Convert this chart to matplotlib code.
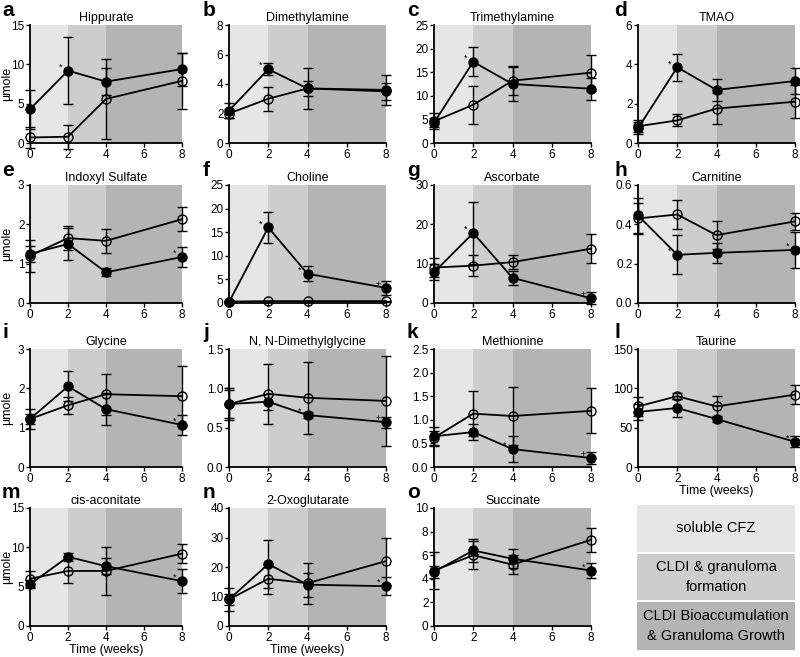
import matplotlib
matplotlib.use("Agg")
import matplotlib.pyplot as plt
from matplotlib.patches import Rectangle

plt.rcParams['font.family'] = ['Liberation Sans', 'DejaVu Sans']

weeks = [0, 2, 4, 8]

letters = list("abcdefghijklmno")
titles = ["Hippurate", "Dimethylamine", "Trimethylamine", "TMAO",
          "Indoxyl Sulfate", "Choline", "Ascorbate", "Carnitine",
          "Glycine", "N, N-Dimethylglycine", "Methionine", "Taurine",
          "cis-aconitate", "2-Oxoglutarate", "Succinate"]
ymax = [15, 8, 25, 6, 3, 25, 30, 0.6, 3, 1.5, 2.5, 150, 15, 40, 10]
ystep = [5, 2, 5, 2, 1, 5, 10, 0.2, 1, 0.5, 0.5, 50, 5, 10, 2]

# filled circles (CFZ) and open circles (control): mean and error
cfz = [[4.3, 9.2, 7.8, 9.4], [2.2, 5.0, 3.7, 3.6], [4.3, 17.2, 12.5, 11.5],
       [0.75, 3.85, 2.7, 3.15], [1.25, 1.5, 0.78, 1.17], [0.2, 16.0, 6.2, 3.2],
       [7.8, 17.8, 6.4, 1.2], [0.445, 0.245, 0.255, 0.27], [1.22, 2.05, 1.47, 1.07],
       [0.8, 0.83, 0.66, 0.57], [0.65, 0.74, 0.38, 0.19], [70, 75, 61, 32],
       [5.3, 8.8, 7.6, 5.7], [9, 21, 14, 13.5], [4.6, 6.4, 5.7, 4.7]]
cfz_err = [[2.5, 4.3, 1.7, 2.1], [0.5, 0.4, 0.5, 1.0], [1.0, 3.1, 3.5, 2.3],
           [0.3, 0.7, 0.55, 0.65], [0.2, 0.4, 0.1, 0.25], [0.2, 3.2, 1.6, 1.4],
           [2.0, 8.0, 1.7, 1.5], [0.09, 0.1, 0.05, 0.09], [0.25, 0.38, 0.4, 0.25],
           [0.18, 0.1, 0.04, 0.07], [0.2, 0.17, 0.27, 0.12], [10, 12, 4, 7],
           [0.5, 0.5, 1.0, 1.5], [2, 8, 4, 3], [0.5, 1.0, 0.8, 0.6]]
ctrl = [[0.7, 0.8, 5.6, 7.9], [2.0, 3.0, 3.7, 3.5], [4.6, 8.1, 13.2, 14.9],
        [0.85, 1.15, 1.75, 2.1], [1.2, 1.65, 1.58, 2.13], [0.3, 0.4, 0.4, 0.4],
        [9.0, 9.5, 10.4, 13.8], [0.43, 0.45, 0.345, 0.415], [1.22, 1.57, 1.85, 1.8],
        [0.8, 0.93, 0.88, 0.84], [0.62, 1.13, 1.08, 1.19], [77, 90, 77, 92],
        [6.0, 7.0, 7.0, 9.2], [9, 16, 14.5, 22], [4.7, 6.0, 5.2, 7.3]]
ctrl_err = [[1.3, 1.5, 5.1, 3.6], [0.3, 0.8, 1.4, 0.6], [1.7, 4.0, 3.1, 3.8],
            [0.3, 0.3, 0.8, 0.85], [0.4, 0.3, 0.3, 0.3], [0.1, 0.1, 0.1, 0.1],
            [2.4, 2.6, 1.8, 3.7], [0.08, 0.075, 0.07, 0.045], [0.12, 0.22, 0.52, 0.77],
            [0.2, 0.38, 0.46, 0.57], [0.15, 0.48, 0.62, 0.48], [12, 4, 13, 12],
            [1.0, 1.5, 3.0, 1.2], [4, 5, 7, 8], [1.6, 1.2, 0.8, 1.0]]

# significance marks next to filled points: (week, symbol)
marks = [[(2, "*")], [(2, "*")], [(2, "*")], [(2, "*")], [(8, "*")],
         [(2, "*"), (4, "*"), (8, "+")], [(2, "*"), (8, "+")], [(2, "*"), (8, "*")],
         [(8, "*")], [(4, "*"), (8, "+")], [(4, "*"), (8, "+")], [(8, "*")],
         [(8, "*")], [(8, "*")], [(8, "*")]]

phases = ["soluble CFZ", "CLDI & granuloma\nformation",
          "CLDI Bioaccumulation\n& Granuloma Growth"]
phase_bounds = [(0, 2), (2, 4), (4, 8)]
phase_colors = ["#e6e6e6", "#cdcdcd", "#b4b4b4"]

W, H = 800, 657
fig = plt.figure(figsize=(8, 6.57), dpi=100)

col_left = [30, 229, 434, 638]
col_w = [152, 157, 157, 157]
row_top = [25, 185, 349, 508]
ah = 118
letter_x = [2, 203, 407, 614]
letter_y = [10, 170, 332, 492]

for i in range(15):
    r, c = divmod(i, 4)
    ax = fig.add_axes([col_left[c] / W, 1 - (row_top[r] + ah) / H, col_w[c] / W, ah / H])
    for (x0, x1), col in zip(phase_bounds, phase_colors):
        ax.axvspan(x0, x1, color=col, lw=0, zorder=0)
    ax.errorbar(weeks, ctrl[i], yerr=ctrl_err[i], color="black", lw=1.3,
                marker="o", ms=6.5, mfc="none", mec="black", mew=1.0,
                capsize=3.5, elinewidth=1.0, capthick=1.0, clip_on=False, zorder=3)
    ax.errorbar(weeks, cfz[i], yerr=cfz_err[i], color="black", lw=1.3,
                marker="o", ms=6.5, mfc="black", mec="black",
                capsize=3.5, elinewidth=1.0, capthick=1.0, clip_on=False, zorder=4)
    for wk, sym in marks[i]:
        k = weeks.index(wk)
        ax.text(wk - 0.4, cfz[i][k] + 0.03 * ymax[i], sym, fontsize=6.5,
                ha="center", va="center", zorder=5)
    ax.set_xlim(0, 8)
    ax.set_ylim(0, ymax[i])
    ax.set_xticks([0, 2, 4, 6, 8])
    n = int(round(ymax[i] / ystep[i]))
    yt = [ystep[i] * k for k in range(n + 1)]
    ax.set_yticks(yt)
    if ystep[i] < 1:
        ax.set_yticklabels([f"{v:.1f}" for v in yt])
    for s in ["top", "right"]:
        ax.spines[s].set_visible(False)
    for s in ["left", "bottom"]:
        ax.spines[s].set_linewidth(1.3)
    ax.tick_params(labelsize=8.5, length=3, width=1.0, pad=1)
    ax.set_title(titles[i], fontsize=9, pad=3)
    if c == 0:
        ax.set_ylabel("µmole", fontsize=9)
        ax.yaxis.set_label_coords(-0.11, 0.5)
    if i in (11, 12, 13):
        ax.set_xlabel("Time (weeks)", fontsize=9, labelpad=0)
    fig.text(letter_x[c] / W, 1 - letter_y[r] / H, letters[i], fontsize=15,
             fontweight="bold", ha="left", va="center")

# legend boxes for the three phases
box_tops = [505, 554, 602]
box_h = [47, 46, 48]
for txt, col, top, h in zip(phases, phase_colors, box_tops, box_h):
    fig.patches.append(Rectangle((637 / W, 1 - (top + h) / H), 158 / W, h / H,
                                 transform=fig.transFigure, facecolor=col,
                                 edgecolor="none"))
    fig.text(716 / W, 1 - (top + h / 2) / H, txt, fontsize=10.5,
             ha="center", va="center", linespacing=1.6)

fig.savefig("out.png", dpi=100)
